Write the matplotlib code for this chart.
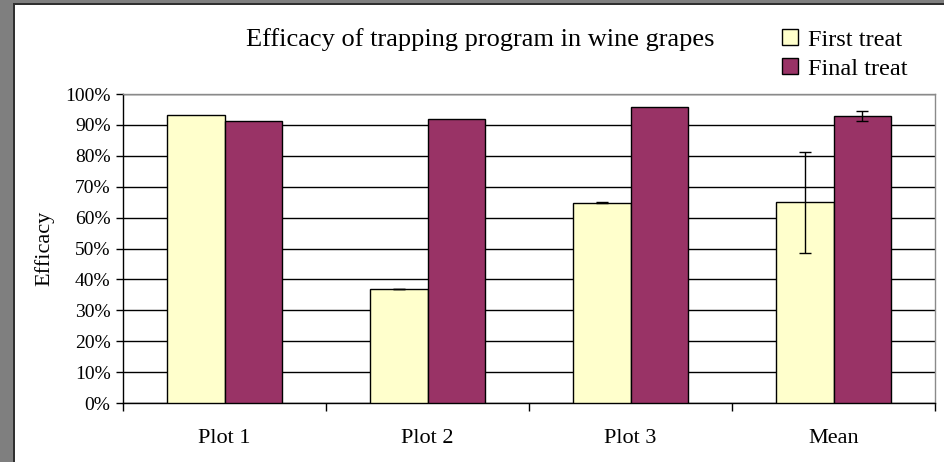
import matplotlib
matplotlib.use("Agg")
import matplotlib.pyplot as plt
import numpy as np
from matplotlib.patches import Rectangle
from matplotlib.ticker import FixedLocator, PercentFormatter

categories = ["Plot 1", "Plot 2", "Plot 3", "Mean"]
first_treat = [93.2, 36.9, 64.8, 65.0]
final_treat = [91.3, 91.9, 95.8, 92.9]
first_err = [0.0, 0.1, 0.1, 16.3]
final_err = [0.0, 0.0, 0.0, 1.5]
yticks = list(range(0, 101, 10))

plt.rcParams['font.family'] = ['Liberation Serif', 'DejaVu Serif']

fig = plt.figure(figsize=(9.44, 4.62), dpi=100)
fig.patch.set_facecolor('white')

# gray frame on left and top
fig.patches.append(Rectangle((0, 0), 13/944, 1, transform=fig.transFigure,
                             facecolor='#7f7f7f', edgecolor='none', zorder=0))
fig.patches.append(Rectangle((0, 1 - 3/462), 1, 3/462, transform=fig.transFigure,
                             facecolor='#7f7f7f', edgecolor='none', zorder=0))
fig.patches.append(Rectangle((13/944, 0), 1.5/944, 1 - 3/462, transform=fig.transFigure,
                             facecolor='#303030', edgecolor='none', zorder=0))
fig.patches.append(Rectangle((13/944, 1 - 4.5/462), 1, 1.5/462, transform=fig.transFigure,
                             facecolor='#303030', edgecolor='none', zorder=0))

ax = fig.add_axes([123/944, 1 - 403/462, (935 - 123)/944, (403 - 94)/462])
x = np.arange(len(categories))
w = 0.283
ax.bar(x - w/2, first_treat, w, color='#FFFFCC', edgecolor='black', linewidth=1,
       label='First treat', zorder=3)
ax.bar(x + w/2, final_treat, w, color='#993366', edgecolor='black', linewidth=1,
       label='Final treat', zorder=3)
ax.errorbar(x[1:] - w/2, first_treat[1:], yerr=first_err[1:], fmt='none', ecolor='black',
            elinewidth=1, capsize=4, capthick=1, zorder=4)
ax.errorbar(x[3:] + w/2, final_treat[3:], yerr=final_err[3:], fmt='none', ecolor='black',
            elinewidth=1, capsize=4, capthick=1, zorder=4)

ax.set_xlim(-0.5, len(categories) - 0.5)
ax.set_ylim(0, 100)
ax.set_yticks(yticks)
ax.yaxis.set_major_formatter(PercentFormatter(decimals=0))
ax.yaxis.grid(True, color='black', linewidth=1)
ax.set_axisbelow(True)

ax.xaxis.set_major_locator(FixedLocator(np.arange(-0.5, len(categories), 1.0)))
ax.xaxis.set_minor_locator(FixedLocator(x))
ax.set_xticklabels([''] * (len(categories) + 1))
ax.set_xticklabels(categories, minor=True)
ax.tick_params(axis='x', which='major', direction='out', length=6, width=1, color='black')
ax.tick_params(axis='x', which='minor', length=0, labelsize=16, pad=19)
ax.tick_params(axis='y', direction='out', length=5, width=1, labelsize=14, pad=4)

for s in ['top', 'right']:
    ax.spines[s].set_color('#8a8a8a')
    ax.spines[s].set_linewidth(1)
for s in ['left', 'bottom']:
    ax.spines[s].set_color('black')
    ax.spines[s].set_linewidth(1)

ax.set_ylabel('Efficacy', fontsize=16, labelpad=8)

fig.text(480/944, 1 - 40/462, 'Efficacy of trapping program in wine grapes',
         ha='center', va='center', fontsize=19)

fig.legend(loc='upper left', bbox_to_anchor=(782/944, 1 - 29/462), frameon=False,
           fontsize=17.5, handlelength=0.65, handleheight=0.65, handletextpad=0.4,
           labelspacing=0.3, borderaxespad=0, borderpad=0)

fig.savefig('out.png', dpi=100, facecolor='white')
